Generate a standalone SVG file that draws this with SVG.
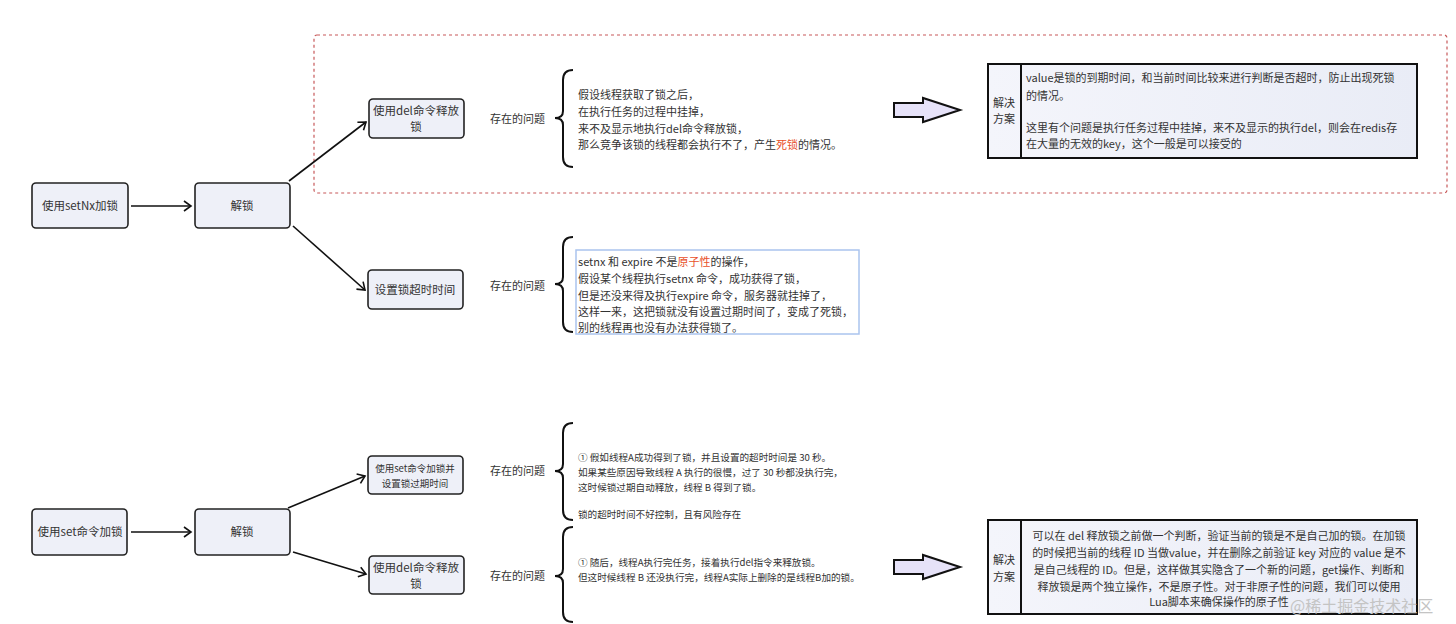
<svg xmlns="http://www.w3.org/2000/svg" width="1456" height="624" viewBox="0 0 1456 624">
<defs>
<marker id="ah" markerWidth="12" markerHeight="12" refX="9" refY="6" orient="auto" markerUnits="userSpaceOnUse">
<path d="M2,1 L9,6 L2,11" fill="none" stroke="#111" stroke-width="1.6"/>
</marker>
<linearGradient id="sg" x1="0" y1="0" x2="1" y2="0">
<stop offset="0" stop-color="#f4f5fb"/><stop offset="1" stop-color="#e9ecf6"/>
</linearGradient>
</defs>
<style>
text{font-family:"Noto Sans CJK SC","Noto Sans",sans-serif;fill:#333;}
.node{fill:#eef0f8;stroke:#222;stroke-width:1.6;}
.nt{font-size:11.5px;text-anchor:middle;}
.st{font-size:9.5px;text-anchor:middle;}
.q{font-size:11px;}
.p{font-size:11px;}
.s{font-size:9.6px;}
.red{fill:#e8502a;}
.brace{fill:none;stroke:#111;stroke-width:2;}
.conn{fill:none;stroke:#111;stroke-width:1.6;}
.big{fill:#e6e2f8;stroke:#111;stroke-width:2;}
.sol{fill:url(#sg);stroke:#111;stroke-width:2;}
.solt{font-size:11px;}
</style>
<rect width="1456" height="624" fill="#fff"/>
<rect x="314" y="35" width="1133" height="158" rx="3" fill="none" stroke="#c7595a" stroke-width="1.2" stroke-dasharray="3,3"/>

<g id="connectors">
<line class="conn" x1="131" y1="206" x2="191" y2="206" marker-end="url(#ah)"/>
<line class="conn" x1="289" y1="181" x2="366" y2="122" marker-end="url(#ah)"/>
<line class="conn" x1="293" y1="226" x2="365" y2="290" marker-end="url(#ah)"/>
<line class="conn" x1="131" y1="532" x2="191" y2="532" marker-end="url(#ah)"/>
<line class="conn" x1="288" y1="508" x2="365" y2="476" marker-end="url(#ah)"/>
<line class="conn" x1="293" y1="552" x2="366" y2="574" marker-end="url(#ah)"/>
</g>

<g id="n-setnx"><rect class="node" x="32" y="183" width="96" height="45" rx="4"/><text class="nt" x="80" y="210">使用setNx加锁</text></g>
<g id="n-unlock1"><rect class="node" x="195" y="183" width="95" height="45" rx="4"/><text class="nt" x="242" y="210">解锁</text></g>
<g id="n-del1"><rect class="node" x="369" y="99" width="95" height="39" rx="4"/><text class="nt" x="416" y="115">使用del命令释放</text><text class="nt" x="416" y="131">锁</text></g>
<g id="n-timeout"><rect class="node" x="368" y="270" width="95" height="39" rx="4"/><text class="nt" x="415" y="294">设置锁超时时间</text></g>

<g id="q1"><text class="q" x="490" y="123">存在的问题</text>
<path class="brace" d="M573,70 Q563,70 563,80 L563,111 Q563,118 555,118 Q563,118 563,125 L563,157 Q563,167 573,167"/>
<text class="p" x="578" y="99">假设线程获取了锁之后，</text>
<text class="p" x="578" y="116">在执行任务的过程中挂掉，</text>
<text class="p" x="578" y="133">来不及显示地执行del命令释放锁，</text>
<text class="p" x="578" y="149">那么竞争该锁的线程都会执行不了，产生<tspan class="red">死锁</tspan>的情况。</text>
</g>

<g id="arrow1"><path class="big" d="M894,103 L923,103 L923,98 L960,110 L923,122 L923,117 L894,117 Z"/></g>

<g id="sol1"><rect class="sol" x="988" y="64" width="429" height="94"/><line x1="1021" y1="64" x2="1021" y2="158" stroke="#111" stroke-width="2"/>
<text class="solt" x="1004" y="107" text-anchor="middle">解决</text><text class="solt" x="1004" y="123" text-anchor="middle">方案</text>
<text class="solt" x="1026" y="82">value是锁的到期时间，和当前时间比较来进行判断是否超时，防止出现死锁</text>
<text class="solt" x="1026" y="100">的情况。</text>
<text class="solt" x="1026" y="132">这里有个问题是执行任务过程中挂掉，来不及显示的执行del，则会在redis存</text>
<text class="solt" x="1026" y="148">在大量的无效的key，这个一般是可以接受的</text>
</g>

<g id="q2"><text class="q" x="490" y="290">存在的问题</text>
<path class="brace" d="M573,237 Q563,237 563,247 L563,277 Q563,284 555,284 Q563,284 563,291 L563,322 Q563,332 573,332"/>
<rect x="576" y="250" width="283" height="84" fill="#fff" stroke="#aac4ee" stroke-width="1.5"/>
<text class="p" x="578" y="266">setnx 和 expire 不是<tspan class="red">原子性</tspan>的操作，</text>
<text class="p" x="578" y="283">假设某个线程执行setnx 命令，成功获得了锁，</text>
<text class="p" x="578" y="300">但是还没来得及执行expire 命令，服务器就挂掉了，</text>
<text class="p" x="578" y="316">这样一来，这把锁就没有设置过期时间了，变成了死锁，</text>
<text class="p" x="578" y="332">别的线程再也没有办法获得锁了。</text>
</g>

<g id="n-set"><rect class="node" x="32" y="509" width="95" height="46" rx="4"/><text class="nt" x="80" y="536">使用set命令加锁</text></g>
<g id="n-unlock2"><rect class="node" x="195" y="509" width="95" height="46" rx="4"/><text class="nt" x="242" y="536">解锁</text></g>
<g id="n-setex"><rect class="node" x="368" y="456" width="95" height="38" rx="4"/><text class="st" x="415" y="472">使用set命令加锁并</text><text class="st" x="415" y="487">设置锁过期时间</text></g>
<g id="n-del2"><rect class="node" x="369" y="556" width="95" height="38" rx="4"/><text class="nt" x="416" y="572">使用del命令释放</text><text class="nt" x="416" y="588">锁</text></g>

<g id="q3"><text class="q" x="490" y="475">存在的问题</text>
<path class="brace" d="M573,423 Q563,423 563,433 L563,464 Q563,471 555,471 Q563,471 563,478 L563,510 Q563,520 573,520"/>
<text class="s" x="578" y="461">① 假如线程A成功得到了锁，并且设置的超时时间是 30 秒。</text>
<text class="s" x="578" y="476">如果某些原因导致线程 A 执行的很慢，过了 30 秒都没执行完，</text>
<text class="s" x="578" y="491">这时候锁过期自动释放，线程 B 得到了锁。</text>
<text class="s" x="578" y="518">锁的超时时间不好控制，且有风险存在</text>
</g>

<g id="q4"><text class="q" x="490" y="580">存在的问题</text>
<path class="brace" d="M573,527 Q563,527 563,537 L563,569 Q563,576 555,576 Q563,576 563,583 L563,612 Q563,622 573,622"/>
<text class="s" x="578" y="566">① 随后，线程A执行完任务，接着执行del指令来释放锁。</text>
<text class="s" x="578" y="581">但这时候线程 B 还没执行完，线程A实际上删除的是线程B加的锁。</text>
</g>

<g id="arrow2"><path class="big" d="M894,560 L923,560 L923,555 L960,567 L923,579 L923,574 L894,574 Z"/></g>

<g id="sol2"><rect class="sol" x="988" y="520" width="429" height="94"/><line x1="1021" y1="520" x2="1021" y2="614" stroke="#111" stroke-width="2"/>
<text class="solt" x="1004" y="564" text-anchor="middle">解决</text><text class="solt" x="1004" y="581" text-anchor="middle">方案</text>
<text class="solt" x="1219" y="540" text-anchor="middle">可以在 del 释放锁之前做一个判断，验证当前的锁是不是自己加的锁。在加锁</text>
<text class="solt" x="1219" y="557" text-anchor="middle">的时候把当前的线程 ID 当做value，并在删除之前验证 key 对应的 value 是不</text>
<text class="solt" x="1219" y="574" text-anchor="middle">是自己线程的 ID。但是，这样做其实隐含了一个新的问题，get操作、判断和</text>
<text class="solt" x="1219" y="591" text-anchor="middle">释放锁是两个独立操作，不是原子性。对于非原子性的问题，我们可以使用</text>
<text class="solt" x="1219" y="606" text-anchor="middle">Lua脚本来确保操作的原子性</text>
</g>

<text x="1290" y="612" style="font-size:16px;fill:#c4c4c4;">@稀土掘金技术社区</text>
</svg>
